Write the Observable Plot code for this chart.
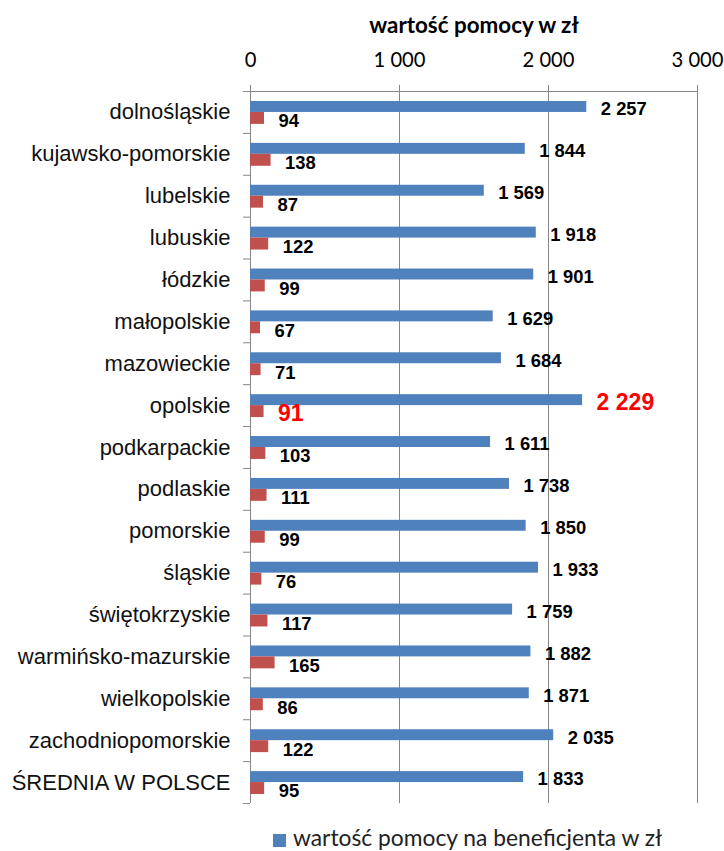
<!DOCTYPE html>
<html><head><meta charset="utf-8">
<script src="https://cdn.jsdelivr.net/npm/d3@7"></script>
<script src="https://cdn.jsdelivr.net/npm/@observablehq/plot@0.6"></script>
<style>
body{margin:0;background:#fff;position:relative;width:724px;height:851px;overflow:hidden}
#legend{position:absolute;left:0;top:820px;width:724px;height:31px}
#legend .sw{position:absolute;left:273px;top:14px;width:13px;height:13px;background:#4F81BD}
#legend .lb{position:absolute;left:293px;top:3px;font:22.8px Lato;color:#222;white-space:nowrap}
</style>
</head><body>
<div id="chart"></div>
<div id="legend"><div class="sw"></div><div class="lb"></div></div>
<script>
const regions = ["dolnośląskie","kujawsko-pomorskie","lubelskie","lubuskie","łódzkie","małopolskie","mazowieckie","opolskie","podkarpackie","podlaskie","pomorskie","śląskie","świętokrzyskie","warmińsko-mazurskie","wielkopolskie","zachodniopomorskie","ŚREDNIA W POLSCE"];
const valuePerBeneficiary = [2257,1844,1569,1918,1901,1629,1684,2229,1611,1738,1850,1933,1759,1882,1871,2035,1833];
const secondSeriesValues = [94,138,87,122,99,67,71,91,103,111,99,76,117,165,86,122,95];
const xTicks = [0,1000,2000,3000];
const highlighted = "opolskie";
const axisTitle = "wartość pomocy w zł";
const legendLabel = "wartość pomocy na beneficjenta w zł";

const BLUE = "#4F81BD", RED = "#C0504D", GRAY = "#868686";
const H = 820, MT = 91, MB = 17;
const half = (H - MT - MB) / regions.length / 2;
const fmt = d3.formatLocale({thousands: " ", grouping: [3], decimal: ",", currency: ["", ""]}).format(",");

const rows = regions.map((r, i) => ({region: r, value: valuePerBeneficiary[i], second: secondSeriesValues[i]}));
const normal = rows.filter(d => d.region !== highlighted);
const hi = rows.filter(d => d.region === highlighted);

const chart = Plot.plot({
  width: 724, height: H,
  marginTop: MT, marginBottom: MB, marginLeft: 250, marginRight: 27,
  x: {domain: [0, 3000]},
  y: {domain: regions, padding: 0, round: false},
  marks: [
    Plot.gridX(xTicks, {stroke: GRAY, strokeOpacity: 1}),
    Plot.frame({anchor: "top", stroke: GRAY}),
    Plot.ruleX([0], {stroke: GRAY}),
    Plot.axisX(xTicks, {anchor: "top", tickSize: 7, tickPadding: 18, tickFormat: fmt, label: null, fontSize: 20.2, fontFamily: "Lato", stroke: GRAY, fill: "#000"}),
    Plot.axisY({tickSize: 0, tickPadding: 20, label: null, fontSize: 22, fontFamily: "Liberation Sans", fill: "#111"}),
    Plot.axisY({tickSize: 7, tickFormat: () => "", label: null, dy: -half, stroke: GRAY}),
    Plot.axisY([regions[regions.length - 1]], {tickSize: 7, tickFormat: () => "", label: null, dy: half, stroke: GRAY}),
    Plot.barX(rows, {x: "value", y: "region", fill: BLUE, insetTop: 10, insetBottom: half}),
    Plot.barX(rows, {x: "second", y: "region", fill: RED, insetTop: half, insetBottom: 9}),
    Plot.text(normal, {x: "value", y: "region", text: d => fmt(d.value), textAnchor: "start", dx: 14, dy: -3, fontWeight: "bold", fontSize: 18.4, fontFamily: "Liberation Sans", fill: "#000"}),
    Plot.text(normal, {x: "second", y: "region", text: d => fmt(d.second), textAnchor: "start", dx: 14, dy: 9, fontWeight: "bold", fontSize: 18.4, fontFamily: "Liberation Sans", fill: "#000"}),
    Plot.text(hi, {x: "value", y: "region", text: d => fmt(d.value), textAnchor: "start", dx: 14, dy: -3, fontWeight: "bold", fontSize: 23, fontFamily: "Liberation Sans", fill: "#FF0000"}),
    Plot.text(hi, {x: "second", y: "region", text: d => fmt(d.second), textAnchor: "start", dx: 14, dy: 8, fontWeight: "bold", fontSize: 23, fontFamily: "Liberation Sans", fill: "#FF0000"}),
    Plot.text([axisTitle], {text: d => d, frameAnchor: "top", lineAnchor: "middle", dy: -66, fontWeight: "bold", fontSize: 22.4, fontFamily: "Lato", fill: "#000"})
  ]
});
document.getElementById("chart").appendChild(chart);
document.querySelector("#legend .lb").textContent = legendLabel;
</script>
</body></html>
